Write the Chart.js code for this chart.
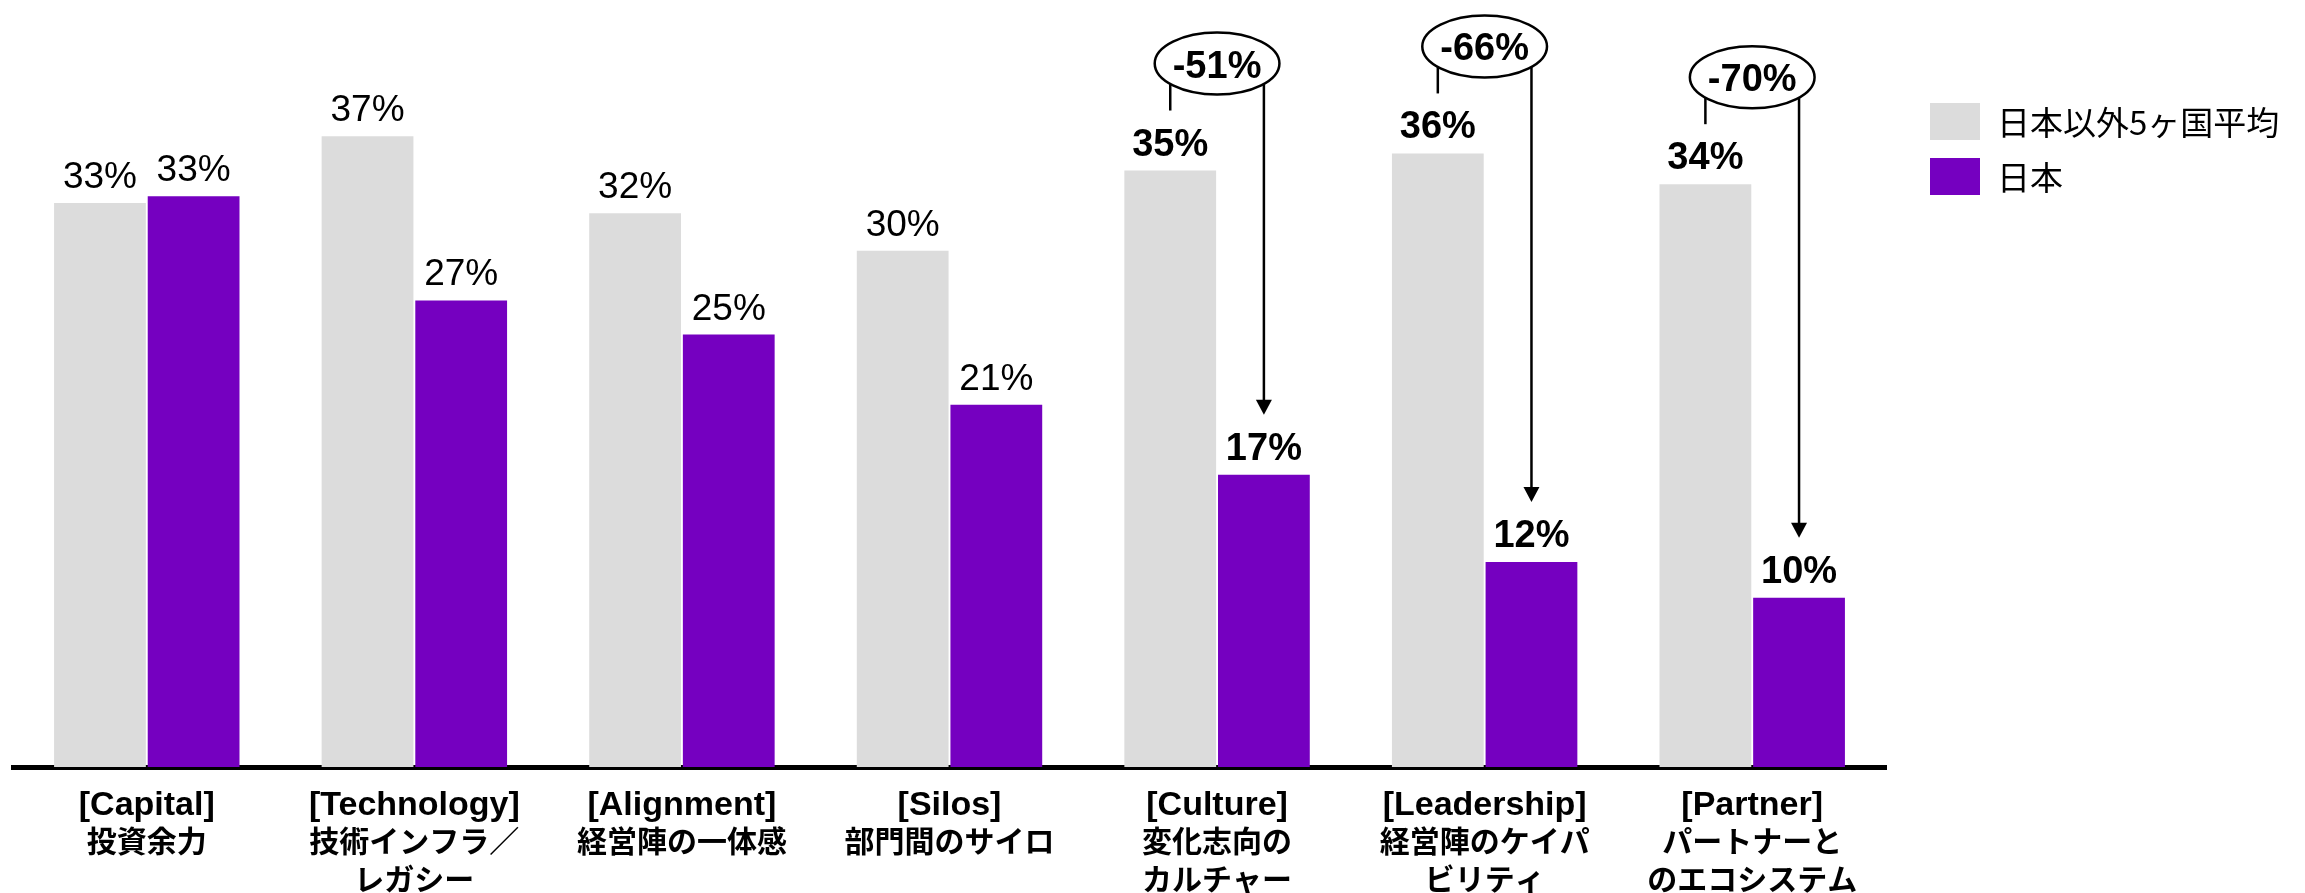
<!DOCTYPE html>
<html>
<head>
<meta charset="utf-8">
<script src="https://cdn.jsdelivr.net/npm/chart.js@4"></script>
<style>
  body { margin: 0; background: #fff; }
  #wrap { width: 2305px; height: 893px; position: relative; }
</style>
</head>
<body>
<div id="wrap"><canvas id="gapChart"></canvas></div>
<script>
// categories (first line latin, then japanese lines)
const categories = [
  ["[Capital]", "投資余力"],
  ["[Technology]", "技術インフラ／", "レガシー"],
  ["[Alignment]", "経営陣の一体感"],
  ["[Silos]", "部門間のサイロ"],
  ["[Culture]", "変化志向の", "カルチャー"],
  ["[Leadership]", "経営陣のケイパ", "ビリティ"],
  ["[Partner]", "パートナーと", "のエコシステム"]
];
const seriesNames = ["日本以外5ヶ国平均", "日本"];
const otherAvg = [33.0, 36.9, 32.4, 30.2, 34.9, 35.9, 34.1];
const japan = [33.4, 27.3, 25.3, 21.2, 17.1, 12.0, 9.9];
const gapLabels = ["", "", "", "", "-51%", "-66%", "-70%"];
const seriesColors = ["#dcdcdc", "#7500c0"];

const latin = '"Liberation Sans", Arial, "Noto Sans CJK JP", sans-serif';
const jp = '"Noto Sans CJK JP", sans-serif';

// value labels + gap ellipses with arrows
const notesPlugin = {
  id: "notes",
  afterDatasetsDraw(chart) {
    const ctx = chart.ctx;
    ctx.save();
    ctx.fillStyle = "#000";
    ctx.strokeStyle = "#000";
    ctx.textAlign = "center";
    ctx.textBaseline = "alphabetic";

    chart.data.datasets.forEach((ds, di) => {
      chart.getDatasetMeta(di).data.forEach((bar, i) => {
        const bold = gapLabels[i] !== "";
        ctx.font = bold ? "bold 38px " + latin : "37px " + latin;
        ctx.fillText(Math.round(ds.data[i]) + "%", bar.x, bar.y - 15);
      });
    });

    const gray = chart.getDatasetMeta(0).data;
    const purple = chart.getDatasetMeta(1).data;
    gapLabels.forEach((txt, i) => {
      if (!txt) return;
      const g = gray[i], p = purple[i];
      const cx = (g.x + p.x) / 2;
      const cy = g.y - 107;
      ctx.font = "bold 38px " + latin;
      const rx = ctx.measureText(txt).width / 2 + 18;
      const ry = 31;

      ctx.lineWidth = 2.5;
      ctx.beginPath();
      ctx.ellipse(cx, cy, rx, ry, 0, 0, Math.PI * 2);
      ctx.stroke();
      ctx.fillText(txt, cx, cy + 14);

      const dx = (p.x - g.x) / 2;
      const dy = ry * Math.sqrt(Math.max(0, 1 - (dx / rx) * (dx / rx)));

      ctx.beginPath();
      ctx.moveTo(g.x, cy + dy);
      ctx.lineTo(g.x, g.y - 60);
      ctx.stroke();

      const tip = p.y - 60;
      ctx.beginPath();
      ctx.moveTo(p.x, cy + dy);
      ctx.lineTo(p.x, tip - 10);
      ctx.stroke();
      ctx.beginPath();
      ctx.moveTo(p.x, tip);
      ctx.lineTo(p.x - 8, tip - 15);
      ctx.lineTo(p.x + 8, tip - 15);
      ctx.closePath();
      ctx.fill();
    });
    ctx.restore();
  }
};

// category labels under the axis
const catLabelPlugin = {
  id: "catLabels",
  afterDraw(chart) {
    const ctx = chart.ctx;
    const xs = chart.scales.x;
    const top = chart.chartArea.bottom;
    ctx.save();
    ctx.fillStyle = "#000";
    ctx.textAlign = "center";
    ctx.textBaseline = "alphabetic";
    categories.forEach((lines, i) => {
      const x = xs.getPixelForTick(i);
      lines.forEach((line, li) => {
        if (li === 0) {
          ctx.font = "bold 34px " + latin;
          ctx.fillText(line, x, top + 48);
        } else {
          ctx.font = "bold 30px " + jp;
          ctx.fillText(line, x, top + 85 + (li - 1) * 38);
        }
      });
    });
    ctx.restore();
  }
};

// legend at the right
const legendPlugin = {
  id: "sideLegend",
  afterDraw(chart) {
    const ctx = chart.ctx;
    ctx.save();
    ctx.font = '33px "Noto Sans CJK JP", sans-serif';
    ctx.textBaseline = "middle";
    ctx.textAlign = "left";
    chart.data.datasets.forEach((ds, i) => {
      const y = 103 + i * 55;
      ctx.fillStyle = ds.backgroundColor;
      ctx.fillRect(1930, y, 50, 37);
      ctx.fillStyle = "#000";
      ctx.fillText(ds.label, 1997, y + 19);
    });
    ctx.restore();
  }
};

new Chart(document.getElementById("gapChart"), {
  type: "bar",
  data: {
    labels: categories.map(c => c.join(" ")),
    datasets: [
      { label: seriesNames[0], data: otherAvg, backgroundColor: seriesColors[0] },
      { label: seriesNames[1], data: japan, backgroundColor: seriesColors[1] }
    ]
  },
  options: {
    responsive: true,
    maintainAspectRatio: false,
    animation: false,
    categoryPercentage: 0.7,
    barPercentage: 0.98,
    layout: { padding: { top: 15, left: 13, right: 419, bottom: 0 } },
    plugins: {
      legend: { display: false },
      tooltip: { enabled: false }
    },
    scales: {
      x: {
        grid: { display: false, drawTicks: false },
        border: { display: true, color: "#000", width: 5 },
        ticks: { display: false },
        afterFit(scale) { scale.height = 126; }
      },
      y: { display: false, min: 0, max: 44 }
    }
  },
  plugins: [notesPlugin, catLabelPlugin, legendPlugin]
});
</script>
</body>
</html>
